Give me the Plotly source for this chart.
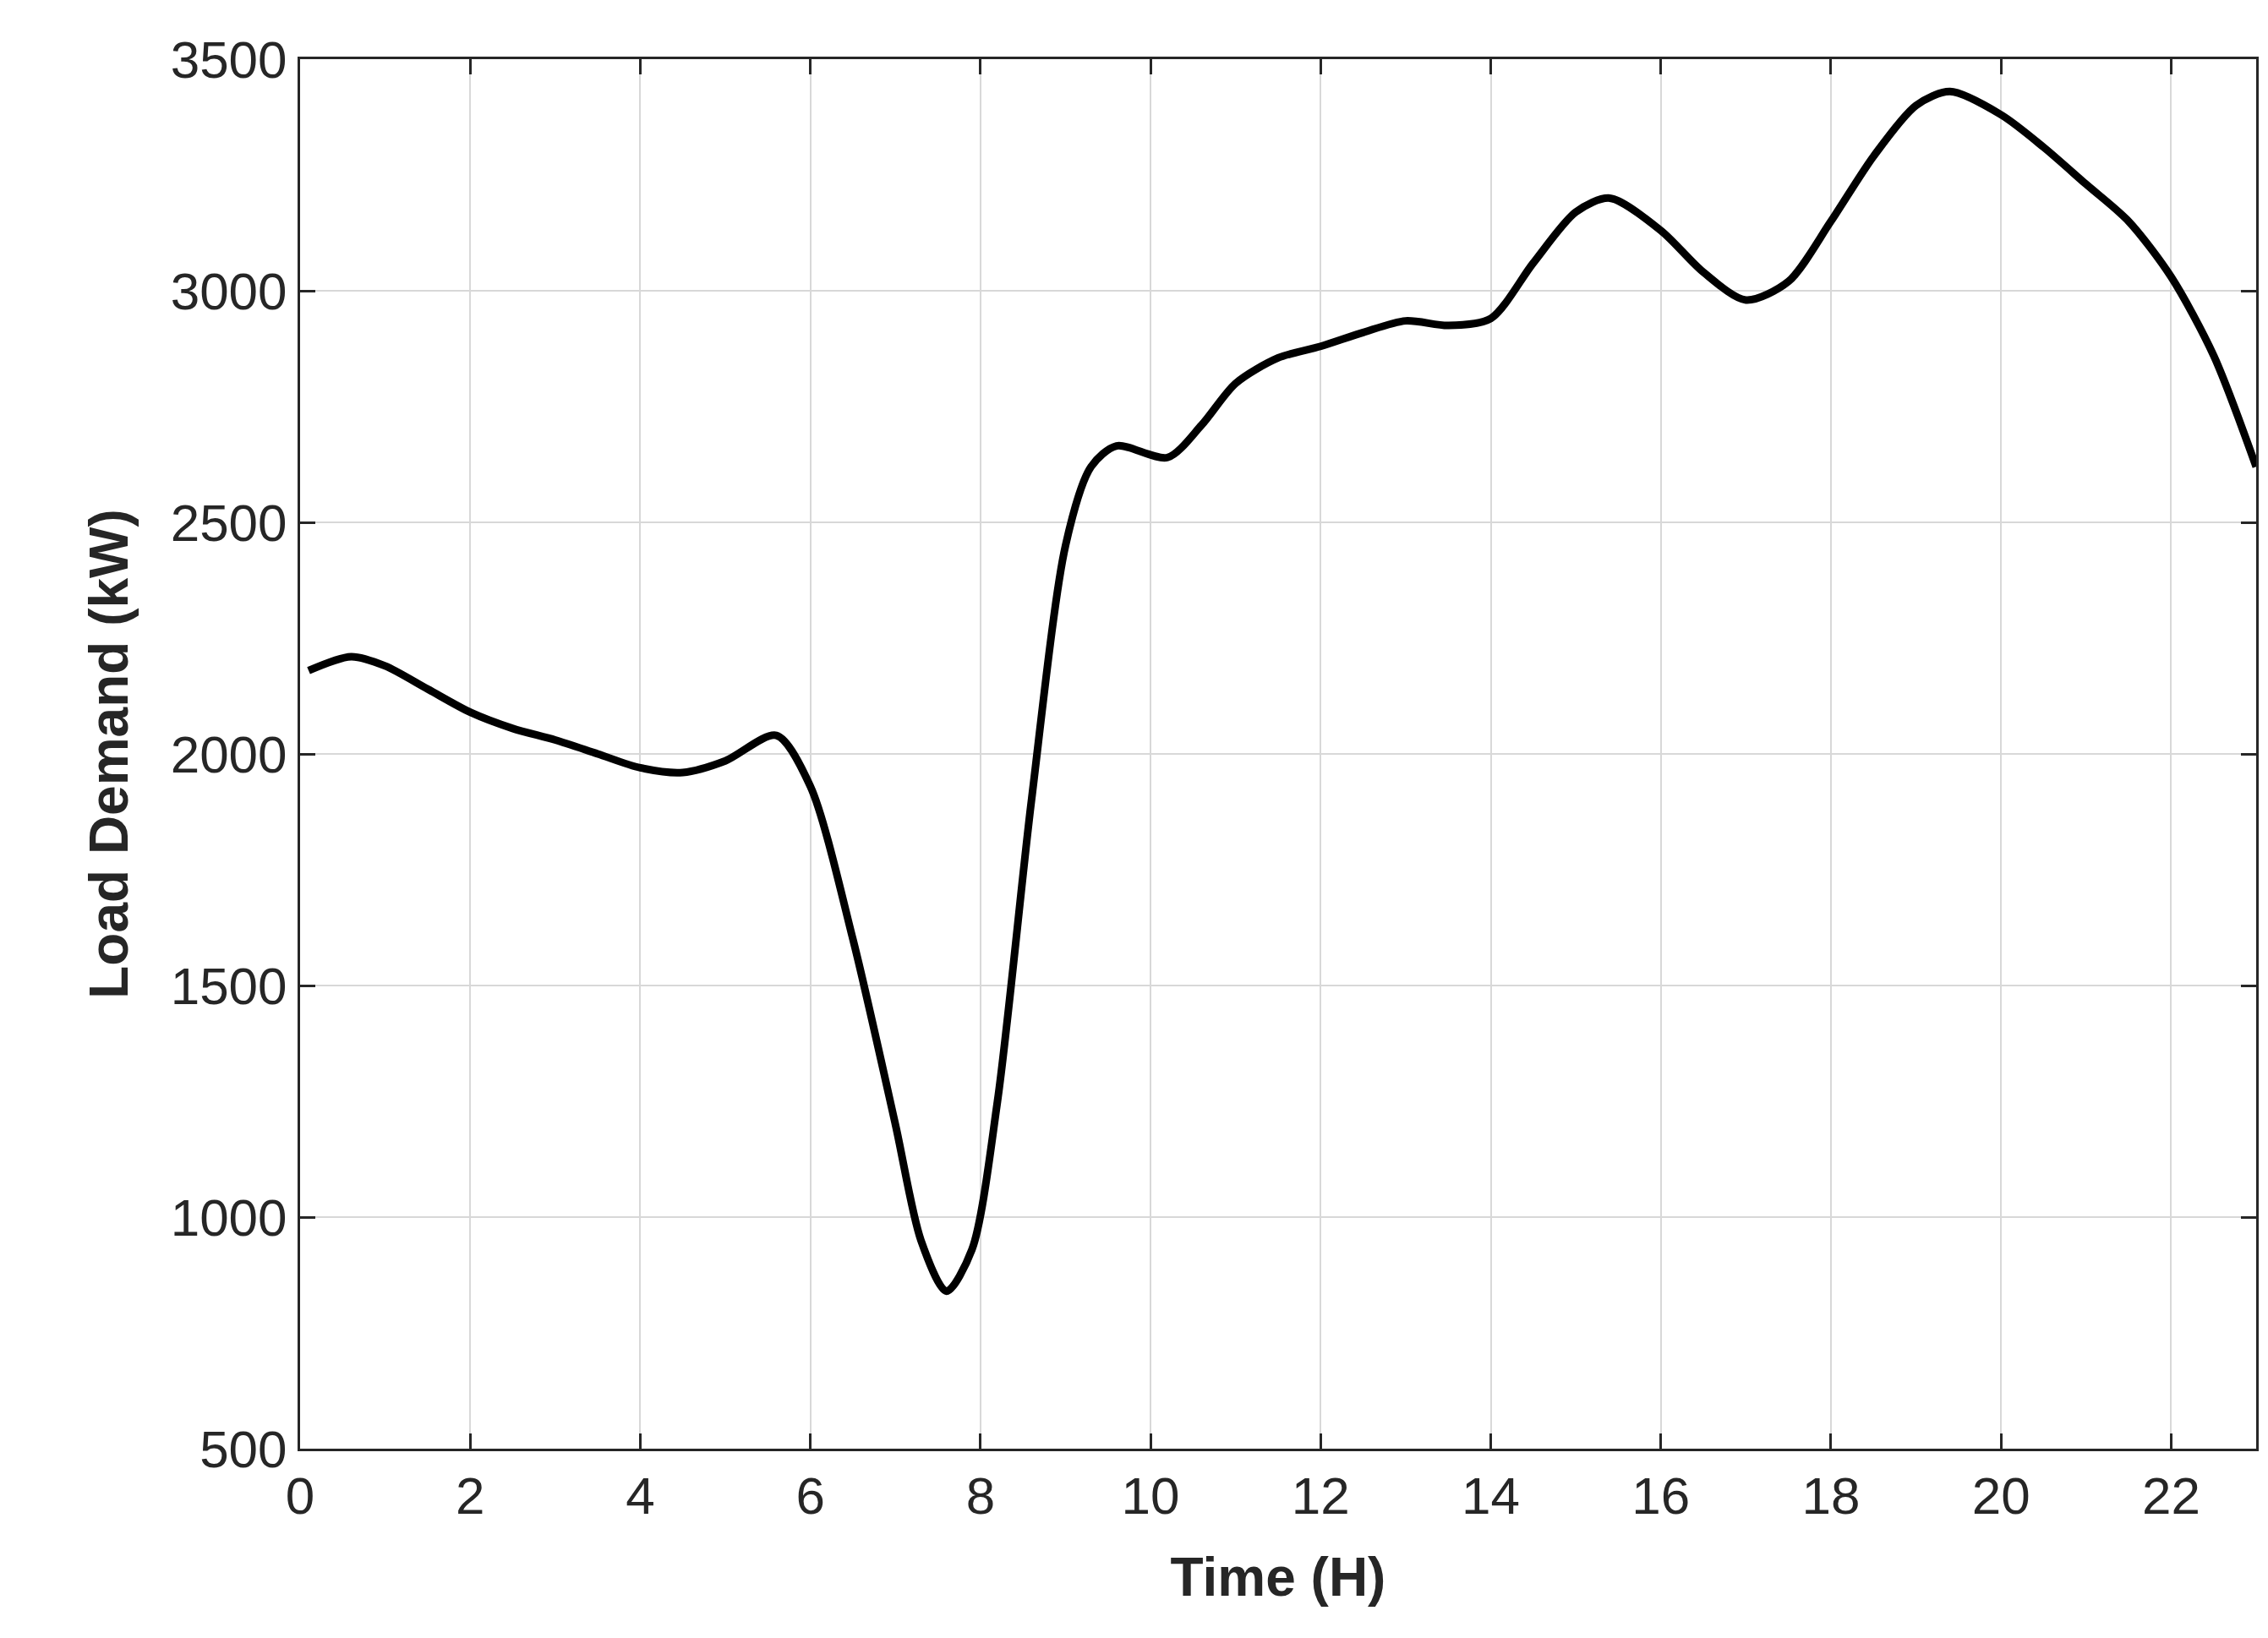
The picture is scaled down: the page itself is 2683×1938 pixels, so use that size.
import plotly.graph_objects as go

# load demand
hours = [0.1, 0.6, 1, 1.5, 2, 2.5, 3, 3.5, 4, 4.5, 5, 5.6, 6, 6.5, 7, 7.3, 7.6,
         7.9, 8.2, 8.6, 9, 9.3, 9.6, 10.2, 10.6, 11, 11.5, 12, 12.5, 13, 13.5,
         14, 14.5, 15, 15.4, 16, 16.5, 17, 17.5, 18, 18.5, 19, 19.4, 20, 20.5,
         21, 21.5, 22, 22.5, 23]
load_kw = [2180, 2210, 2190, 2140, 2090, 2055, 2030, 2000, 1970, 1960, 1985,
           2040, 1930, 1600, 1200, 950, 840, 930, 1250, 1900, 2450, 2620, 2665,
           2640, 2710, 2800, 2855, 2880, 2910, 2935, 2925, 2940, 3060, 3170,
           3200, 3130, 3040, 2980, 3020, 3150, 3290, 3400, 3430, 3380, 3310,
           3230, 3150, 3030, 2860, 2620]

font = "Liberation Sans, Arial, sans-serif"
fig = go.Figure()
fig.add_trace(go.Scatter(x=hours, y=load_kw, mode="lines",
                         line=dict(color="black", width=9, shape="spline", smoothing=0.8)))

axis_common = dict(showline=True, linecolor="#262626", linewidth=3, mirror="ticks",
                   ticks="inside", ticklen=18, tickwidth=3, tickcolor="#262626",
                   showgrid=True, gridcolor="#d8d8d8", gridwidth=2, zeroline=False,
                   tickfont=dict(family=font, size=62, color="#262626"))
fig.update_xaxes(range=[0, 23], dtick=2, **axis_common,
                 title=dict(text="<b>Time (H)</b>", font=dict(family=font, size=64, color="#262626"),
                            standoff=40))
fig.update_yaxes(range=[500, 3500], dtick=500, **axis_common,
                 title=dict(text="<b>Load Demand (kW)</b>", font=dict(family=font, size=64, color="#262626"),
                            standoff=30))
fig.update_layout(width=2683, height=1938, plot_bgcolor="white", paper_bgcolor="white",
                  showlegend=False, margin=dict(l=347, r=22, t=62, b=232))
fig.write_html("out.html")
